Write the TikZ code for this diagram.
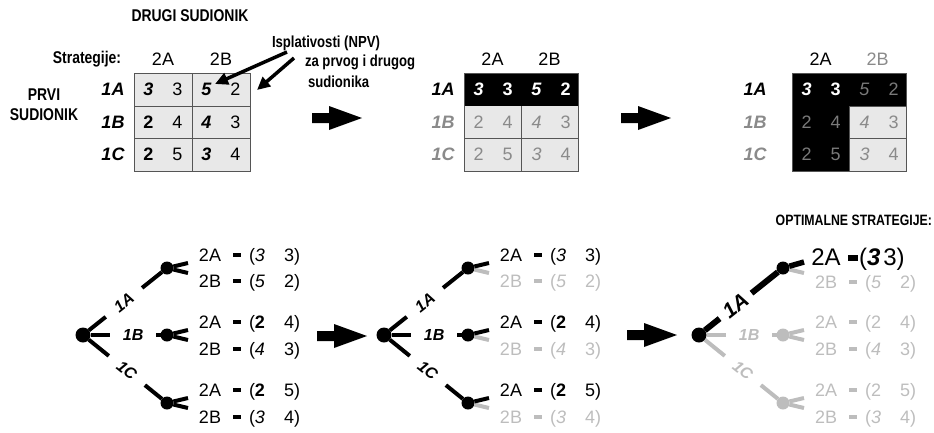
\documentclass[tikz,border=0pt]{standalone}
\usepackage{fontspec}
\setmainfont{Liberation Sans}
\newfontfamily\nb[FakeStretch=0.82]{Liberation Sans}
\usetikzlibrary{arrows.meta}
\definecolor{cellgray}{HTML}{E8E8E8}
\definecolor{gridgray}{HTML}{555555}
\definecolor{txtgray}{HTML}{8A8A8A}
\definecolor{darkgrtxt}{HTML}{7A7A7A}
\definecolor{treegray}{HTML}{BDBDBD}

\tikzset{
  every node/.style={inner sep=0pt, outer sep=0pt},
  num/.style={font=\fontsize{18}{18}\selectfont},
  rowlbl/.style={font=\fontsize{18}{18}\selectfont\bfseries\itshape},
  hdr/.style={font=\fontsize{18}{18}\selectfont},
  nbold/.style={font=\fontsize{17}{17}\selectfont\nb\bfseries},
  ctext/.style={font=\fontsize{16}{16}\selectfont\nb\bfseries, anchor=west},
  grid/.style={draw=gridgray, line width=1pt},
  callout/.style={line width=3.5pt, -{Triangle[length=13pt,width=12pt]}},
  br/.style={line width=4pt},
  dot/.style={circle, fill, minimum size=13pt},
  rootdot/.style={circle, fill, minimum size=15pt},
  tl/.style={font=\fontsize{16}{16}\selectfont\bfseries\itshape, sloped, inner sep=1pt},
  ttxt/.style={font=\fontsize{18}{18}\selectfont},
  pdash/.style={minimum width=8pt, minimum height=4.5pt},
}

\newcommand\crow[7]{%
  \node[num] (#1a) at ({#3+14.5},#2) {#4};
  \node[num] (#1b) at ({#3+43.5},#2) {#5};
  \node[num] (#1c) at ({#3+72.5},#2) {#6};
  \node[num] (#1d) at ({#3+101.5},#2) {#7};
}
\newcommand\prow[6]{%
  \node[ttxt, text=#6, anchor=base] (#1t) at (127,{#2+6.5}) {#3};
  \node[pdash, fill=#6] (#1d) at (154,#2) {};
  \node[ttxt, text=#6, anchor=base west] (#1p) at (166,{#2+6.5}) {(#4\hspace{19pt}#5)};
}
\newcommand\blockarrow[2]{%
  \fill (#1,{#2-5}) -- ++(17,0) -- ++(0,-7) -- ++(33,12) -- ++(-33,12) -- ++(0,-7) -- ++(-17,0) -- cycle;
}
% branch with a label in a gap: #1 style, #2 from, #3 to, #4 pos, #5 label, #6 name, #7 gap, #8 label style
\newcommand\branch[8]{%
  \path (#2) -- node[tl,#8,pos=#4] (#6) {#5} (#3);
  \draw[#1, shorten >=#7] (#2) -- (#6);
  \draw[#1, shorten <=#7] (#6) -- (#3);
}

\begin{document}
\begin{tikzpicture}[x=1pt,y=-1pt]
\useasboundingbox (0,0) rectangle (934,432);

% ---------- titles ----------
\node[nbold] (drugi) at (190,16) {DRUGI SUDIONIK};
\node[nbold] (strat) at (87,59) {Strategije:};
\node[nbold] (prvi) at (44,95) {PRVI};
\node[nbold] (sud) at (44,115) {SUDIONIK};
\node[ctext] (isp) at (272,43) {Isplativosti (NPV)};
\node[ctext] (za) at (305,62) {za prvog i drugog};
\node[ctext] (sdn) at (308,82) {sudionika};
\node[font=\fontsize{15}{15}\selectfont\nb\bfseries, anchor=east] (opt) at (932,220) {OPTIMALNE STRATEGIJE:};

% ---------- table 1 ----------
\fill[cellgray] (134,73) rectangle (250,171);
\draw[grid] (134,73) rectangle (250,171);
\draw[grid] (134,106) -- (250,106) (134,138) -- (250,138) (192,73) -- (192,171);
\node[hdr] (ta2A) at (163,59) {2A};
\node[hdr] (ta2B) at (221,59) {2B};
\node[rowlbl] (ta1l) at (113,89.5) {1A};
\node[rowlbl] (ta2l) at (113,122) {1B};
\node[rowlbl] (ta3l) at (113,154.5) {1C};
\crow{ta1}{89.5}{134}{\textbf{\textit{3}}}{3}{\textbf{\textit{5}}}{2}
\crow{ta2}{122}{134}{\textbf{2}}{4}{\textbf{\textit{4}}}{3}
\crow{ta3}{154.5}{134}{\textbf{2}}{5}{\textbf{\textit{3}}}{4}

\coordinate (c1s) at (287,52);
\coordinate (c1e) at (215,84);
\coordinate (c2s) at (294,58);
\coordinate (c2e) at (257,90);
\draw[callout] (c1s) -- (c1e);
\draw[callout] (c2s) -- (c2e);

\blockarrow{312}{118}

% ---------- table 2 ----------
\fill[cellgray] (464,106) rectangle (578,171);
\fill[black] (464,73) rectangle (578,106);
\draw[grid] (464,73) rectangle (578,171);
\draw[grid] (464,138) -- (578,138) (521,106) -- (521,171);
\node[hdr] (tb2A) at (492.5,59) {2A};
\node[hdr] (tb2B) at (549.5,59) {2B};
\node[rowlbl] (tb1l) at (443,89.5) {1A};
\node[rowlbl, text=txtgray] (tb2l) at (443,122) {1B};
\node[rowlbl, text=txtgray] (tb3l) at (443,154.5) {1C};
\begin{scope}[every node/.append style={text=white}]
\crow{tb1}{89.5}{464}{\textbf{\textit{3}}}{\textbf{3}}{\textbf{\textit{5}}}{\textbf{2}}
\end{scope}
\begin{scope}[every node/.append style={text=txtgray}]
\crow{tb2}{122}{464}{2}{4}{\textit{4}}{3}
\crow{tb3}{154.5}{464}{2}{5}{\textit{3}}{4}
\end{scope}

\blockarrow{621}{118}

% ---------- table 3 ----------
\fill[cellgray] (849,106) rectangle (906,171);
\fill[black] (792,73) -- (906,73) -- (906,106) -- (849,106) -- (849,171) -- (792,171) -- cycle;
\draw[grid] (792,73) rectangle (906,171);
\draw[grid] (849,106) -- (906,106) (849,138) -- (906,138) (849,106) -- (849,171);
\node[hdr] (tc2A) at (820.5,59) {2A};
\node[hdr, text=txtgray] (tc2B) at (877.5,59) {2B};
\node[rowlbl] (tc1l) at (755,89.5) {1A};
\node[rowlbl, text=txtgray] (tc2l) at (755,122) {1B};
\node[rowlbl, text=txtgray] (tc3l) at (755,154.5) {1C};
\crow{tc1}{89.5}{792}{\textcolor{white}{\textbf{\textit{3}}}}{\textcolor{white}{\textbf{3}}}{\textcolor{darkgrtxt}{\textit{5}}}{\textcolor{darkgrtxt}{2}}
\begin{scope}[every node/.append style={text=darkgrtxt}]
\crow{tc2}{122}{792}{2}{4}{\textcolor{txtgray}{\textit{4}}}{\textcolor{txtgray}{3}}
\crow{tc3}{154.5}{792}{2}{5}{\textcolor{txtgray}{\textit{3}}}{\textcolor{txtgray}{4}}
\end{scope}

% ---------- tree 1 ----------
\begin{scope}[shift={(83,335)}, name prefix=p-]
  \node[rootdot] (root) at (0,0) {};
  \node[dot] (a) at (84,-67) {};
  \node[dot] (b) at (84,0) {};
  \node[dot] (c) at (84,68) {};
  \branch{br}{root}{a}{0.48}{1A}{la}{12pt}{}
  \branch{br}{root}{b}{0.61}{1B}{lb}{12pt}{}
  \branch{br}{root}{c}{0.52}{1C}{lc}{12pt}{}
  \coordinate (au) at (105,-72); \coordinate (aw) at (105,-62);
  \coordinate (bu) at (105,-5);  \coordinate (bw) at (105,5);
  \coordinate (cu) at (105,63);  \coordinate (cw) at (105,73);
  \draw[br] (a) -- (au); \draw[br] (a) -- (aw);
  \draw[br] (b) -- (bu); \draw[br] (b) -- (bw);
  \draw[br] (c) -- (cu); \draw[br] (c) -- (cw);
  \prow{aa}{-80}{2A}{\textit{3}}{3}{black}
  \prow{ab}{-54}{2B}{\textit{5}}{2}{black}
  \prow{ba}{-13}{2A}{\textbf{2}}{4}{black}
  \prow{bb}{14}{2B}{\textit{4}}{3}{black}
  \prow{ca}{55}{2A}{\textbf{2}}{5}{black}
  \prow{cb}{82}{2B}{\textit{3}}{4}{black}
\end{scope}

\blockarrow{317}{336}

% ---------- tree 2 ----------
\begin{scope}[shift={(384,335)}, name prefix=q-]
  \node[rootdot] (root) at (0,0) {};
  \node[dot] (a) at (84,-67) {};
  \node[dot] (b) at (84,0) {};
  \node[dot] (c) at (84,68) {};
  \branch{br}{root}{a}{0.48}{1A}{la}{12pt}{}
  \branch{br}{root}{b}{0.61}{1B}{lb}{12pt}{}
  \branch{br}{root}{c}{0.52}{1C}{lc}{12pt}{}
  \coordinate (au) at (105,-72); \coordinate (aw) at (105,-62);
  \coordinate (bu) at (105,-5);  \coordinate (bw) at (105,5);
  \coordinate (cu) at (105,63);  \coordinate (cw) at (105,73);
  \draw[br, treegray] (a) -- (aw); \draw[br] (a) -- (au);
  \draw[br, treegray] (b) -- (bw); \draw[br] (b) -- (bu);
  \draw[br, treegray] (c) -- (cw); \draw[br] (c) -- (cu);
  \prow{aa}{-80}{2A}{\textit{3}}{3}{black}
  \prow{ab}{-54}{2B}{\textit{5}}{2}{treegray}
  \prow{ba}{-13}{2A}{\textbf{2}}{4}{black}
  \prow{bb}{14}{2B}{\textit{4}}{3}{treegray}
  \prow{ca}{55}{2A}{\textbf{2}}{5}{black}
  \prow{cb}{82}{2B}{\textit{3}}{4}{treegray}
\end{scope}

\blockarrow{627}{335}

% ---------- tree 3 ----------
\begin{scope}[shift={(699,335)}, name prefix=r-]
  \node[rootdot] (root) at (0,0) {};
  \node[dot] (a) at (84,-67) {};
  \node[dot, treegray] (b) at (84,0) {};
  \node[dot, treegray] (c) at (84,68) {};
  \branch{br, treegray}{root}{b}{0.61}{1B}{lb}{12pt}{text=treegray}
  \branch{br, treegray}{root}{c}{0.52}{1C}{lc}{12pt}{text=treegray}
  \branch{line width=6pt}{root}{a}{0.42}{1A}{la}{6pt}{font=\fontsize{21}{21}\selectfont\bfseries\itshape}
  \coordinate (au) at (105,-73); \coordinate (aw) at (105,-62);
  \coordinate (bu) at (105,-5);  \coordinate (bw) at (105,5);
  \coordinate (cu) at (105,63);  \coordinate (cw) at (105,73);
  \draw[br, treegray] (a) -- (aw); \draw[line width=5.5pt] (a) -- (au);
  \draw[br, treegray] (b) -- (bw); \draw[br, treegray] (b) -- (bu);
  \draw[br, treegray] (c) -- (cw); \draw[br, treegray] (c) -- (cu);
  \node[font=\fontsize{24}{24}\selectfont, anchor=base] (aat) at (127,-69.4) {2A};
  \node[pdash, fill=black, minimum width=10pt, minimum height=5.5pt] (aad) at (154,-77) {};
  \node[font=\fontsize{24}{24}\selectfont, anchor=base west] (aap) at (160,-69.4) {(\textbf{\textit{3}}\hspace{3pt}3)};
  \prow{ab}{-53}{2B}{\textit{5}}{2}{treegray}
  \prow{ba}{-13}{2A}{2}{4}{treegray}
  \prow{bb}{14}{2B}{\textit{4}}{3}{treegray}
  \prow{ca}{55}{2A}{2}{5}{treegray}
  \prow{cb}{82}{2B}{\textit{3}}{4}{treegray}
\end{scope}

\end{tikzpicture}
\end{document}
